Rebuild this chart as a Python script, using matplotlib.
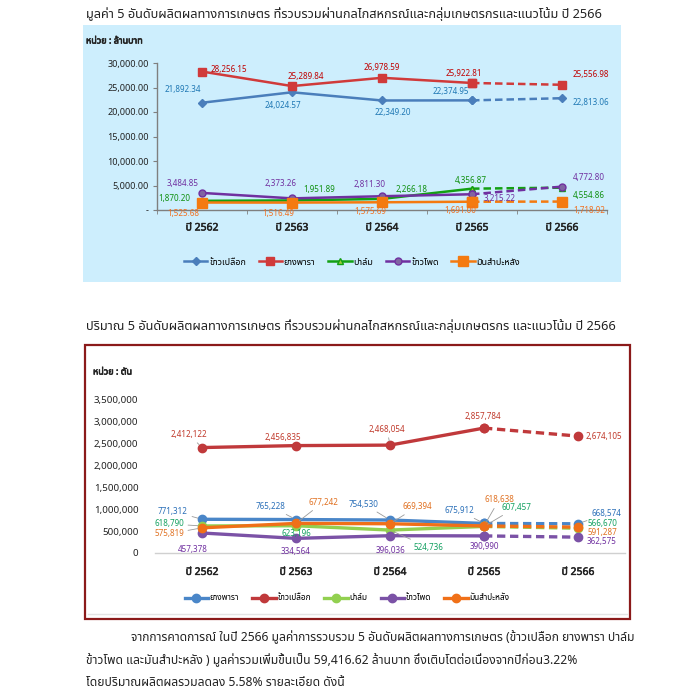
import numpy as np
import matplotlib
matplotlib.use('Agg')
import matplotlib.pyplot as plt
import matplotlib.patheffects as pe
from matplotlib import font_manager
from matplotlib.ft2font import FT2Font
from matplotlib.patches import Rectangle
from matplotlib.lines import Line2D
from matplotlib.ticker import FuncFormatter

# ---------------- data ----------------
years = ['ปี 2562', 'ปี 2563', 'ปี 2564', 'ปี 2565', 'ปี 2566']

# chart 1 : value (million baht)
val_names = ['ข้าวเปลือก', 'ยางพารา', 'ปาล์ม', 'ข้าวโพด', 'มันสำปะหลัง']
val_paddy = [21892.34, 24024.57, 22349.20, 22374.95, 22813.06]
val_rubber = [28256.15, 25289.84, 26978.59, 25922.81, 25556.98]
val_palm = [1870.20, 1951.89, 2266.18, 4356.87, 4554.86]
val_corn = [3484.85, 2373.26, 2811.30, 3215.22, 4772.80]
val_cassava = [1525.68, 1516.49, 1575.69, 1691.00, 1718.92]
val_ticks = [0, 5000, 10000, 15000, 20000, 25000, 30000]

# chart 2 : quantity (tons)
qty_names = ['ยางพารา', 'ข้าวเปลือก', 'ปาล์ม', 'ข้าวโพด', 'มันสำปะหลัง']
qty_rubber = [771312, 765228, 754530, 675912, 668574]
qty_paddy = [2412122, 2456835, 2468054, 2857784, 2674105]
qty_palm = [618790, 623196, 524736, 607457, 566670]
qty_corn = [457378, 334564, 396036, 390990, 362575]
qty_cassava = [575819, 677242, 669394, 618638, 591287]
qty_ticks = [0, 500000, 1000000, 1500000, 2000000, 2500000, 3000000, 3500000]

title1 = 'มูลค่า 5 อันดับผลิตผลทางการเกษตร ที่รวบรวมผ่านกลไกสหกรณ์และกลุ่มเกษตรกรและแนวโน้ม ปี 2566'
title2 = 'ปริมาณ 5 อันดับผลิตผลทางการเกษตร ที่รวบรวมผ่านกลไกสหกรณ์และกลุ่มเกษตรกร และแนวโน้ม ปี 2566'
unit1 = 'หน่วย : ล้านบาท'
unit2 = 'หน่วย : ตัน'
para = ['จากการคาดการณ์ ในปี 2566 มูลค่าการรวบรวม 5 อันดับผลิตผลทางการเกษตร (ข้าวเปลือก ยางพารา ปาล์ม',
        'ข้าวโพด และมันสำปะหลัง ) มูลค่ารวมเพิ่มขึ้นเป็น 59,416.62 ล้านบาท ซึ่งเติบโตต่อเนื่องจากปีก่อน3.22%',
        'โดยปริมาณผลิตผลรวมลดลง 5.58% รายละเอียด ดังนี้']


# ---------------- font ----------------
def find_thai_font():
    preferred = ['Tahoma', 'Leelawadee UI', 'Leelawadee', 'Noto Sans Thai', 'Noto Sans Thai UI',
                 'Sarabun', 'Loma', 'Garuda', 'Waree', 'Umpush', 'Kinnari', 'Norasi', 'Sawasdee',
                 'Laksaman', 'TlwgTypo']
    found = set()
    seen = set()
    for f in font_manager.fontManager.ttflist:
        if f.fname in seen:
            continue
        seen.add(f.fname)
        try:
            cm = FT2Font(f.fname).get_charmap()
        except Exception:
            continue
        if 0x0E01 in cm and 0x0E48 in cm:
            found.add(f.name)
    for p in preferred:
        if p in found:
            return p
    return sorted(found)[0] if found else None


thai = find_thai_font()
fams = ([thai] if thai else []) + ['DejaVu Sans']
plt.rcParams['font.family'] = fams

W = H = 700.0


def fx(x):
    return x / W


def fy(y):
    return 1 - y / H


def fake_bold(color, w=0.45):
    return [pe.withStroke(linewidth=w, foreground=color)]


fig = plt.figure(figsize=(7, 7), dpi=100)
fig.patch.set_facecolor('white')

# ---------------- chart 1 panel ----------------
fig.patches.append(Rectangle((fx(83), fy(282)), fx(621) - fx(83), fy(25) - fy(282),
                             transform=fig.transFigure, facecolor='#cdeefd', edgecolor='none', zorder=-10))
fig.text(fx(86), fy(14), title1, fontsize=9.2, ha='left', va='center', color='#222222')
fig.text(fx(86), fy(41), unit1, fontsize=6.5, ha='left', va='center', fontweight='bold', color='#222222',
         path_effects=fake_bold('#222222'))

ax1 = fig.add_axes([fx(157), fy(210), fx(607) - fx(157), fy(63) - fy(210)])
ax1.patch.set_alpha(0)
x = np.arange(len(years))
ax1.set_xlim(-0.5, len(years) - 0.5)
ax1.set_ylim(0, 30000)

s1 = [
    (val_names[0], val_paddy, dict(color='#4a7ebb', marker='D', ms=4.5, mfc='#4a7ebb'), '#1f78b4',
     [(-19, 13), (-9, -13), (11, -12), (-21, 9), (29, -4)]),
    (val_names[1], val_rubber, dict(color='#d03a3a', marker='s', ms=5.5, mfc='#d03a3a'), '#c00000',
     [(27, 2), (14, 10), (0, 10), (-8, 9), (29, 10)]),
    (val_names[2], val_palm, dict(color='#13a013', marker='^', ms=5, mfc='#9bcb3b', mec='#13a013'), '#109010',
     [(-28, 2), (27, 11), (30, 9), (-1, 8), (27, -8)]),
    (val_names[3], val_corn, dict(color='#7030a0', marker='o', ms=5, mfc='#8064a2', mec='#7030a0'), '#7030a0',
     [(-19, 9), (-11, 15), (-12, 12), (28, -4), (27, 9)]),
    (val_names[4], val_cassava, dict(color='#f47a10', marker='s', ms=6.5, mfc='#f47a10'), '#f07020',
     [(-19, -11), (-14, -11), (-12, -9), (-12, -9), (27, -9)]),
]
handles1 = []
for name, vals, st, lc, offs in s1:
    ax1.plot(x[:4], vals[:4], lw=1.8, ls='-', zorder=3, **st)
    ax1.plot(x[3:], vals[3:], lw=1.8, ls=(0, (3, 1.6)), zorder=3, **st)
    handles1.append(Line2D([], [], lw=1.8, label=name, **st))
    for i, v in enumerate(vals):
        ax1.annotate(f'{v:,.2f}', (x[i], v), xytext=offs[i], textcoords='offset pixels',
                     ha='center', va='center', fontsize=5.8, color=lc, zorder=5)

ax1.set_yticks(val_ticks)
ax1.yaxis.set_major_formatter(FuncFormatter(lambda v, p: '-' if v == 0 else f'{v:,.2f}'))
ax1.tick_params(axis='y', length=3, color='#7f7f7f', labelsize=6.5, labelcolor='#222222', pad=3)
ax1.set_xticks(x)
ax1.set_xticklabels(years)
ax1.tick_params(axis='x', length=0, labelsize=7.5, labelcolor='#222222', pad=9)
for t in ax1.get_xticklabels():
    t.set_path_effects(fake_bold('#222222', 0.35))
ax1.set_xticks(np.arange(-0.5, len(years), 1), minor=True)
ax1.tick_params(axis='x', which='minor', length=3, color='#7f7f7f')
for s in ['top', 'right']:
    ax1.spines[s].set_visible(False)
for s in ['left', 'bottom']:
    ax1.spines[s].set_color('#7f7f7f')
    ax1.spines[s].set_linewidth(1.0)

fig.legend(handles=handles1, loc='center', bbox_to_anchor=(fx(352), fy(262)), ncol=5, frameon=False,
           fontsize=6.5, handlelength=2.6, columnspacing=1.4, handletextpad=0.2)

# ---------------- chart 2 ----------------
fig.text(fx(86), fy(326), title2, fontsize=9.2, ha='left', va='center', color='#222222')
fig.patches.append(Rectangle((fx(85), fy(619)), fx(630) - fx(85), fy(345) - fy(619),
                             transform=fig.transFigure, facecolor='white', edgecolor='#8b1a1a',
                             lw=1.6, zorder=-10))
fig.lines.append(Line2D([fx(88), fx(627)], [fy(614), fy(614)], transform=fig.transFigure,
                        color='#e4e4e4', lw=1.0, zorder=-5))
fig.text(fx(93), fy(372), unit2, fontsize=6.5, ha='left', va='center', fontweight='bold', color='#222222',
         path_effects=fake_bold('#222222'))

ax2 = fig.add_axes([fx(155), fy(553), fx(625) - fx(155), fy(400) - fy(553)])
ax2.patch.set_alpha(0)
ax2.set_xlim(-0.5, len(years) - 0.5)
ax2.set_ylim(0, 3500000)

s2 = [
    (qty_names[0], qty_rubber, '#4a86c8', '#2a6fb8',
     [(-29, 8), (-25, 13), (-26, 16), (-25, 13), (28, 10)], [1, 1, 1, 1, 1]),
    (qty_names[1], qty_paddy, '#c0393b', '#c0392b',
     [(-13, 13), (-13, 8), (-3, 16), (-1, 12), (26, 0)], [1, 0, 1, 0, 0]),
    (qty_names[2], qty_palm, '#92d050', '#12a060',
     [(-33, 2), (0, -8), (38, -17), (32, 19), (24, 5)], [1, 0, 1, 1, 0]),
    (qty_names[3], qty_corn, '#7b52a6', '#7030a0',
     [(-9, -16), (0, -13), (0, -15), (0, -11), (24, -4)], [0, 0, 0, 0, 0]),
    (qty_names[4], qty_cassava, '#f07018', '#e07020',
     [(-33, -6), (27, 21), (27, 17), (15, 26), (24, -5)], [1, 1, 1, 1, 0]),
]
handles2 = []
for name, vals, c, lc, offs, lead in s2:
    st = dict(color=c, marker='o', ms=6, mfc=c, mec=c)
    ax2.plot(x[:4], vals[:4], lw=2.4, ls='-', zorder=3, **st)
    ax2.plot(x[3:], vals[3:], lw=2.4, ls=(0, (2.5, 1.4)), zorder=3, **st)
    handles2.append(Line2D([], [], lw=2.4, label=name, **st))
    for i, v in enumerate(vals):
        ap = dict(arrowstyle='-', color='#9a9a9a', lw=0.6, shrinkA=1, shrinkB=3) if lead[i] else None
        ax2.annotate(f'{v:,.0f}', (x[i], v), xytext=offs[i], textcoords='offset pixels',
                     ha='center', va='center', fontsize=5.8, color=lc, zorder=5, arrowprops=ap)

ax2.set_yticks(qty_ticks)
ax2.yaxis.set_major_formatter(FuncFormatter(lambda v, p: f'{v:,.0f}'))
ax2.tick_params(axis='y', length=0, labelsize=7, labelcolor='#222222', pad=12)
ax2.set_xticks(x)
ax2.set_xticklabels(years)
ax2.tick_params(axis='x', length=0, labelsize=7.5, labelcolor='#222222', pad=10)
for t in ax2.get_xticklabels():
    t.set_path_effects(fake_bold('#222222', 0.35))
for s in ['top', 'right', 'left']:
    ax2.spines[s].set_visible(False)
ax2.spines['bottom'].set_color('#d0d0d0')
ax2.spines['bottom'].set_linewidth(1.0)

fig.legend(handles=handles2, loc='center', bbox_to_anchor=(fx(347), fy(598)), ncol=5, frameon=False,
           fontsize=6, handlelength=2.8, columnspacing=1.6, handletextpad=0.2)

# ---------------- paragraph ----------------
fig.text(fx(131), fy(637), para[0], fontsize=8.7, ha='left', va='center', color='#222222')
fig.text(fx(86), fy(660), para[1], fontsize=8.7, ha='left', va='center', color='#222222')
fig.text(fx(86), fy(683), para[2], fontsize=8.7, ha='left', va='center', color='#222222')

fig.savefig('out.png', dpi=100)
